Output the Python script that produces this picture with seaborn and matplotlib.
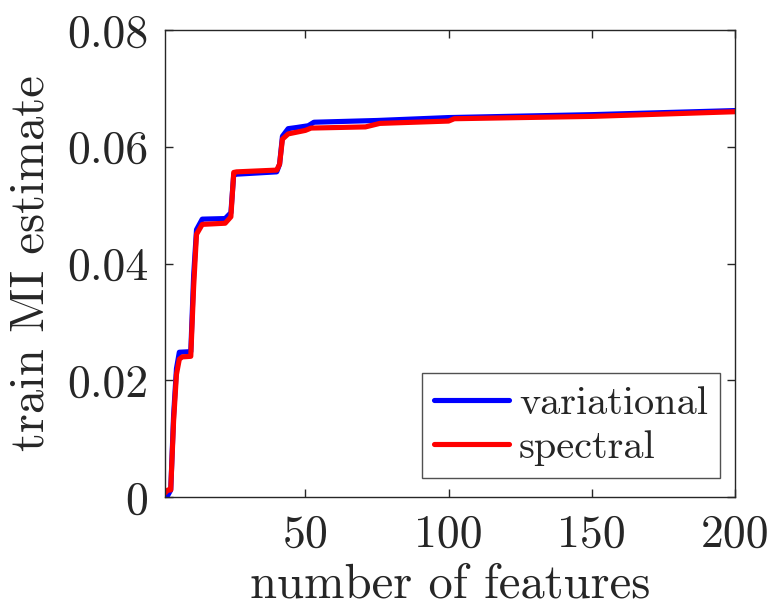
import matplotlib
matplotlib.use("Agg")
import matplotlib.pyplot as plt
import seaborn as sns
import pandas as pd
from matplotlib.ticker import FixedLocator, FixedFormatter

# Mutual-information estimate vs. number of selected features
var_features = [1, 2, 3, 4, 5, 6, 10, 11, 12, 14, 22, 24, 25, 26, 40, 41, 42, 44, 47, 51, 53, 75, 100, 150, 200]
var_mi = [0.0, 0.0003, 0.0012, 0.014, 0.022, 0.0248, 0.0249, 0.038, 0.0458, 0.0476, 0.0477,
          0.0487, 0.0553, 0.0553, 0.0557, 0.0570, 0.0618, 0.0631, 0.0633, 0.0636, 0.0642,
          0.0645, 0.0650, 0.0655, 0.0662]

spec_features = [1, 2, 3, 4, 5, 6, 7, 10, 11, 12, 14, 22, 24, 25, 26, 40, 41, 42, 44, 50, 52, 71, 76, 100, 102, 150, 200]
spec_mi = [0.0007, 0.0012, 0.0012, 0.013, 0.021, 0.0236, 0.0240, 0.0241, 0.036, 0.0450, 0.0467,
           0.0469, 0.0480, 0.0556, 0.0557, 0.0560, 0.0570, 0.0613, 0.0622, 0.0628, 0.0632,
           0.0634, 0.0640, 0.0644, 0.0648, 0.0652, 0.0660]

methods = ["variational", "spectral"]
colors = {"variational": "#0000ff", "spectral": "#ff0000"}

x_ticks = [50, 100, 150, 200]
y_ticks = [0, 0.02, 0.04, 0.06, 0.08]
y_tick_labels = ["0", "0.02", "0.04", "0.06", "0.08"]

df = pd.concat([
    pd.DataFrame({"features": var_features, "mi": var_mi, "method": "variational"}),
    pd.DataFrame({"features": spec_features, "mi": spec_mi, "method": "spectral"}),
], ignore_index=True)

sns.set_theme(style="white")
plt.rcParams["font.family"] = ["cmr10", "DejaVu Serif"]
plt.rcParams["axes.formatter.use_mathtext"] = True
plt.rcParams["mathtext.fontset"] = "cm"

text_color = "#262626"
fig = plt.figure(figsize=(7.71, 6.12), dpi=100)
ax = fig.add_axes([165 / 771, 1 - 497 / 612, (735 - 165) / 771, (497 - 30) / 612])

sns.lineplot(data=df, x="features", y="mi", hue="method", hue_order=methods,
             palette=colors, estimator=None, sort=False, linewidth=3.7, ax=ax)

ax.set_xlim(1, 200)
ax.set_ylim(0, 0.08)
ax.xaxis.set_major_locator(FixedLocator(x_ticks))
ax.xaxis.set_major_formatter(FixedFormatter([str(t) for t in x_ticks]))
ax.yaxis.set_major_locator(FixedLocator(y_ticks))
ax.yaxis.set_major_formatter(FixedFormatter(y_tick_labels))

ax.tick_params(direction="in", length=6, width=1.0, color=text_color,
               labelsize=33, labelcolor=text_color, top=True, right=True,
               bottom=True, left=True, pad=12)
for sp in ax.spines.values():
    sp.set_color(text_color)
    sp.set_linewidth(1.0)

ax.set_xlabel("number of features", fontsize=35, color=text_color, labelpad=6)
ax.set_ylabel("train MI estimate", fontsize=35, color=text_color, labelpad=10)

leg = ax.legend(loc="lower right", fontsize=29, frameon=True, fancybox=False,
                handlelength=1.85, handletextpad=0.25, borderpad=0.3,
                labelspacing=0.2, borderaxespad=0.0,
                bbox_to_anchor=(0.9737, 0.0407))
leg.get_frame().set_edgecolor(text_color)
leg.get_frame().set_linewidth(1.0)
for line in leg.get_lines():
    line.set_linewidth(3.7)

fig.savefig("out.png", dpi=100)
